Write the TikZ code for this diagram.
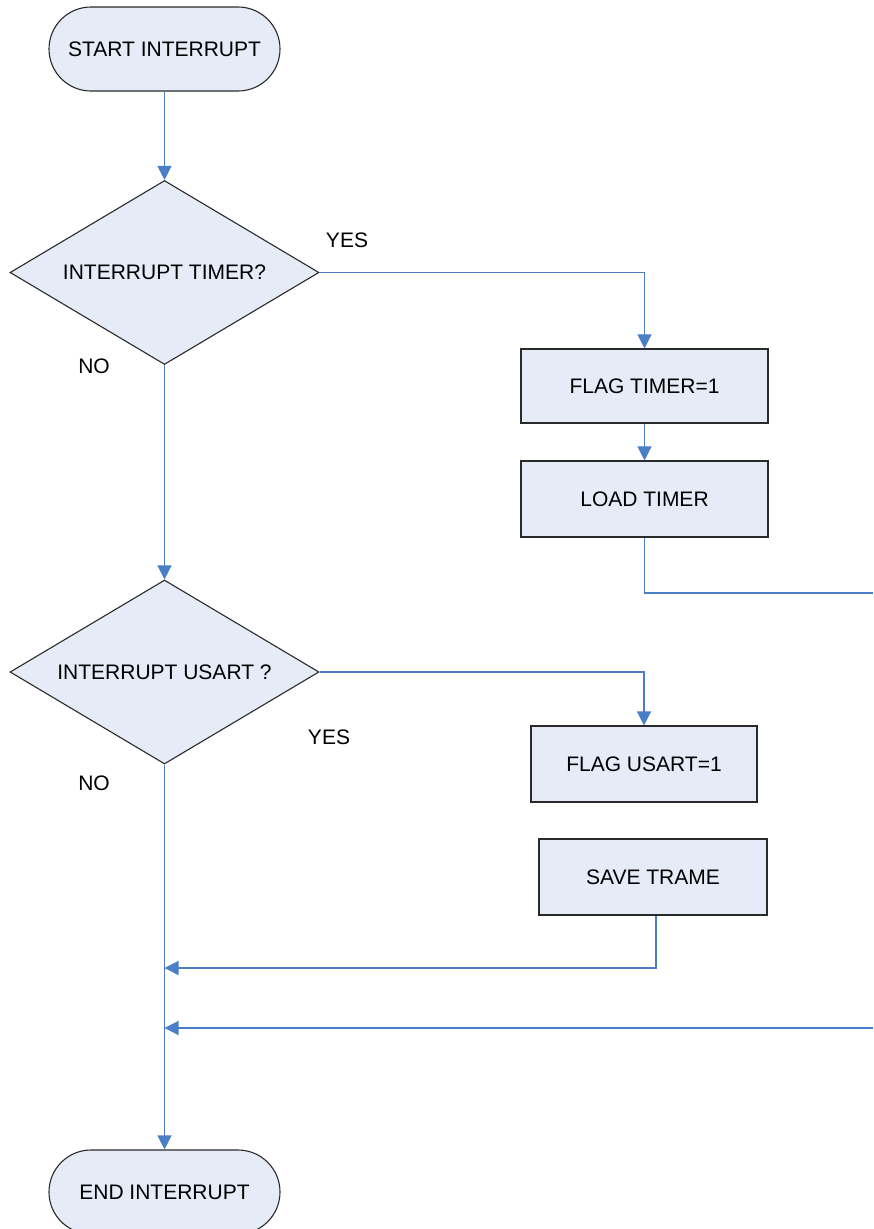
\documentclass[tikz,border=0pt]{standalone}
\usepackage{fontspec}
\setmainfont{Liberation Sans}
\usetikzlibrary{shapes.geometric, arrows.meta}
\definecolor{flowblue}{HTML}{4A7EC6}
\definecolor{boxfill}{HTML}{E6ECF7}
\definecolor{boxline}{HTML}{2A2A2A}
\begin{document}
\begin{tikzpicture}[x=1pt,y=-1pt,
  every node/.style={font=\fontsize{21}{25}\selectfont},
  term/.style={draw=boxline, fill=boxfill, line width=1.1pt, rounded corners=42pt,
    minimum width=231pt, minimum height=84pt, inner sep=0pt},
  decision/.style={draw=boxline, fill=boxfill, line width=1.1pt, diamond, aspect=1.7,
    minimum width=309pt, minimum height=184pt, inner sep=0pt},
  process/.style={draw=boxline, fill=boxfill, line width=1.1pt, minimum height=76pt, inner sep=0pt},
  flow/.style={draw=flowblue, line width=1.2pt, -{Triangle[width=14pt,length=14pt]}},
  link/.style={draw=flowblue, line width=1.2pt},
  lbl/.style={inner sep=0pt}
]
\path[use as bounding box, clip] (0,0) rectangle (873,1229);

% shapes
\node[term] (start) at (164.5,49) {START INTERRUPT};
\node[decision] (d1) at (164.5,272.5) {INTERRUPT TIMER?};
\node[process, minimum width=247pt, minimum height=74pt] (ft) at (644.5,386) {FLAG TIMER=1};
\node[process, minimum width=247pt] (lt) at (644.5,499) {LOAD TIMER};
\node[decision] (d2) at (164.5,672) {INTERRUPT USART ?};
\node[process, minimum width=226pt] (fu) at (644,764) {FLAG USART=1};
\node[process, minimum width=228pt] (st) at (653,877) {SAVE TRAME};
\node[term] (end) at (164.5,1192) {END INTERRUPT};

% branch labels
\node[lbl] (y1) at (347,240) {YES};
\node[lbl] (n1) at (94,366) {NO};
\node[lbl] (y2) at (329,737) {YES};
\node[lbl] (n2) at (94,783) {NO};

% free ends and junctions
\coordinate (e1) at (873,593);
\coordinate (e2) at (873,1028);
\coordinate (j1) at (164.5,968);
\coordinate (j2) at (164.5,1028);

% connectors
\draw[flow] (start) -- (d1);
\draw[flow] (d1.east) -| (ft.north);
\draw[flow] (ft) -- (lt);
\draw[link] (lt.south) |- (e1);
\draw[flow] (d1.south) -- (d2.north);
\draw[flow] (d2.east) -| (fu.north);
\draw[flow] ([xshift=3pt]st.south) |- (j1);
\draw[flow] (e2) -- (j2);
\draw[flow] (d2.south) -- (end.north);
\end{tikzpicture}
\end{document}
